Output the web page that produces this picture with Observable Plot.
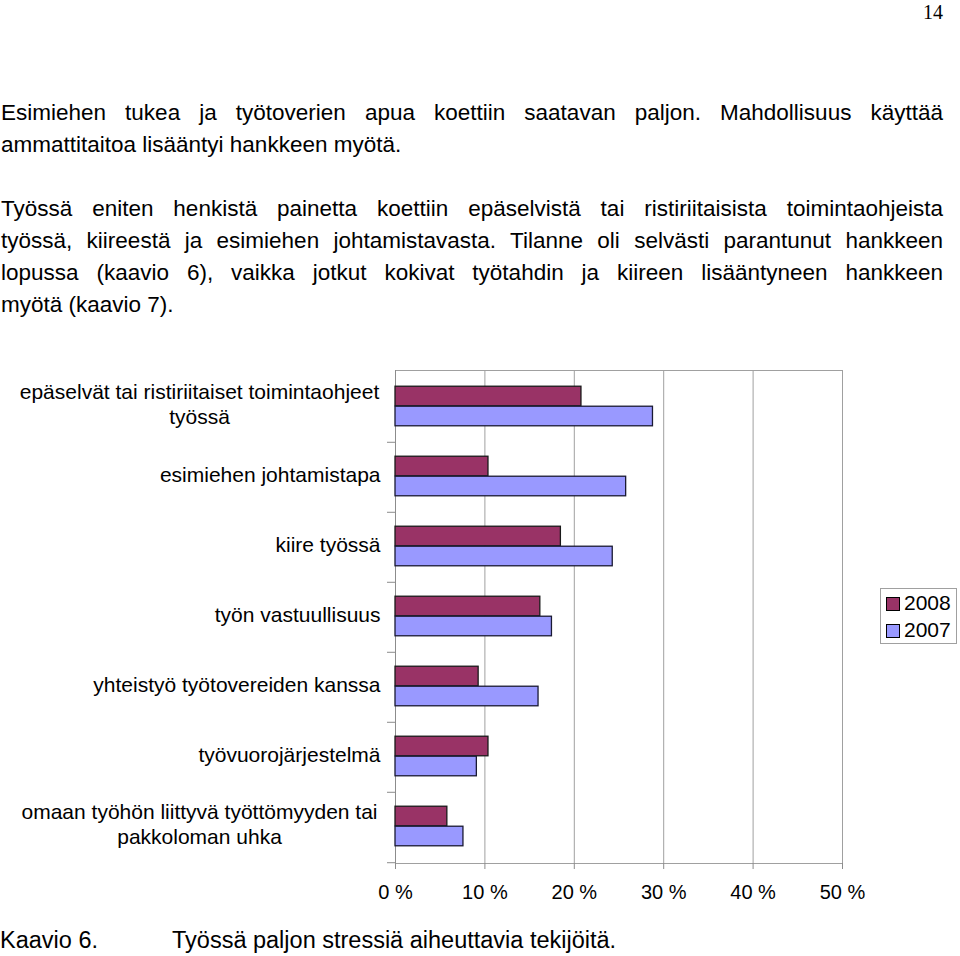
<!DOCTYPE html>
<html>
<head>
<meta charset="utf-8">
<script src="https://cdn.jsdelivr.net/npm/d3@7"></script>
<script src="https://cdn.jsdelivr.net/npm/@observablehq/plot@0.6"></script>
<style>
  html, body { margin: 0; padding: 0; background: #fff; }
  body { width: 960px; height: 956px; position: relative; overflow: hidden; font-family: "Liberation Sans", Arial, sans-serif; color: #000; }
  .abs { position: absolute; }
  #pagenum { right: 17px; top: 2px; font-family: "Liberation Serif", "Times New Roman", serif; font-size: 20px; line-height: 20px; }
  #text { left: 1px; top: 97px; width: 942px; font-size: 22.5px; line-height: 32px; }
  .j { text-align: justify; text-align-last: justify; white-space: nowrap; }
  .l { text-align: left; white-space: nowrap; }
  #chart { left: 0; top: 360px; }
  #legend { left: 880px; top: 588px; width: 77px; height: 56px; border: 1px solid #a0a0a0; box-sizing: border-box; font-size: 21px; }
  .lrow { position: absolute; left: 5px; height: 24px; line-height: 24px; white-space: nowrap; }
  .sw { display: inline-block; width: 14px; height: 14px; border: 1px solid #000; box-sizing: border-box; vertical-align: -1px; margin-right: 4px; }
  #cap1 { left: 0; top: 927px; font-size: 23.5px; }
  #cap2 { left: 172px; top: 927px; font-size: 23.5px; }
</style>
</head>
<body>
<div id="pagenum" class="abs">14</div>
<div id="text" class="abs">
  <div class="j">Esimiehen tukea ja työtoverien apua koettiin saatavan paljon. Mahdollisuus käyttää</div>
  <div class="l">ammattitaitoa lisääntyi hankkeen myötä.</div>
  <div class="l">&nbsp;</div>
  <div class="j">Työssä eniten henkistä painetta koettiin epäselvistä tai ristiriitaisista toimintaohjeista</div>
  <div class="j">työssä, kiireestä ja esimiehen johtamistavasta. Tilanne oli selvästi parantunut hankkeen</div>
  <div class="j">lopussa (kaavio 6), vaikka jotkut kokivat työtahdin ja kiireen lisääntyneen hankkeen</div>
  <div class="l">myötä (kaavio 7).</div>
</div>
<div id="chart" class="abs"></div>
<div id="legend" class="abs"></div>
<div id="cap1" class="abs">Kaavio 6.</div>
<div id="cap2" class="abs">Työssä paljon stressiä aiheuttavia tekijöitä.</div>
<script>
// ---- data ----
const categories = [
  "epäselvät tai ristiriitaiset toimintaohjeet\ntyössä",
  "esimiehen johtamistapa",
  "kiire työssä",
  "työn vastuullisuus",
  "yhteistyö työtovereiden kanssa",
  "työvuorojärjestelmä",
  "omaan työhön liittyvä työttömyyden tai\npakkoloman uhka"
];
const values2008 = [20.8, 10.4, 18.5, 16.2, 9.3, 10.4, 5.8];
const values2007 = [28.8, 25.8, 24.3, 17.5, 16.0, 9.1, 7.6];
const series = ["2008", "2007"];
const seriesColors = ["#993366", "#9999ff"];
const xTicks = [0, 10, 20, 30, 40, 50];

// ---- build ----
const rows2008 = categories.map((c, i) => ({cat: c, value: values2008[i], year: "2008"}));
const rows2007 = categories.map((c, i) => ({cat: c, value: values2007[i], year: "2007"}));
const singleLine = categories.filter(c => !c.includes("\n"));
const multiLine = categories.filter(c => c.includes("\n"));

const W = 960, H = 548, mt = 10, mb = 45, ml = 395, mr = 118;
const step = (H - mt - mb) / categories.length;
const half = step / 2;
const barH = 20;

const chart = Plot.plot({
  width: W,
  height: H,
  marginTop: mt,
  marginBottom: mb,
  marginLeft: ml,
  marginRight: mr,
  style: {fontFamily: "Liberation Sans, Arial, sans-serif", overflow: "visible", background: "transparent"},
  x: {domain: [0, 50], axis: null, label: null},
  y: {domain: categories, padding: 0, axis: null, label: null},
  marks: [
    Plot.gridX(xTicks.slice(1), {stroke: "#a0a0a0", strokeOpacity: 1}),
    Plot.frame({stroke: "#a0a0a0"}),
    Plot.ruleX([0], {stroke: "#8c8c8c"}),
    Plot.axisY(categories.slice(1), {text: null, label: null, tickSize: 8, dy: -half, stroke: "#8c8c8c", strokeOpacity: 1}),
    Plot.axisY(categories.slice(-1), {text: null, label: null, tickSize: 8, dy: half, stroke: "#8c8c8c", strokeOpacity: 1}),
    Plot.axisX({ticks: xTicks, label: null, tickSize: 6, tickPadding: 15, tickFormat: d => d + " %", fontSize: 20, stroke: "#8c8c8c", strokeOpacity: 1, fill: "#000"}),
    Plot.barX(rows2008, {y: "cat", x: "value", fill: seriesColors[0], stroke: "#1a1a1a", strokeWidth: 1.3, insetTop: half - barH - 1, insetBottom: half + 1}),
    Plot.barX(rows2007, {y: "cat", x: "value", fill: seriesColors[1], stroke: "#1a1a33", strokeWidth: 1.3, insetTop: half - 1, insetBottom: half - barH + 1}),
    Plot.text(singleLine, {y: d => d, text: d => d, frameAnchor: "left", textAnchor: "end", dx: -15, dy: -2, fontSize: 21, fill: "#000"}),
    Plot.text(multiLine, {y: d => d, text: d => d, frameAnchor: "left", textAnchor: "middle", dx: -196, dy: -4, fontSize: 21, lineHeight: 1.2, fill: "#000"})
  ]
});
document.getElementById("chart").appendChild(chart);

// legend
const legend = document.getElementById("legend");
series.forEach((s, i) => {
  const row = document.createElement("div");
  row.className = "lrow";
  row.style.top = (2 + i * 27) + "px";
  row.innerHTML = `<span class="sw" style="background:${seriesColors[i]}"></span>${s}`;
  legend.appendChild(row);
});
</script>
</body>
</html>
